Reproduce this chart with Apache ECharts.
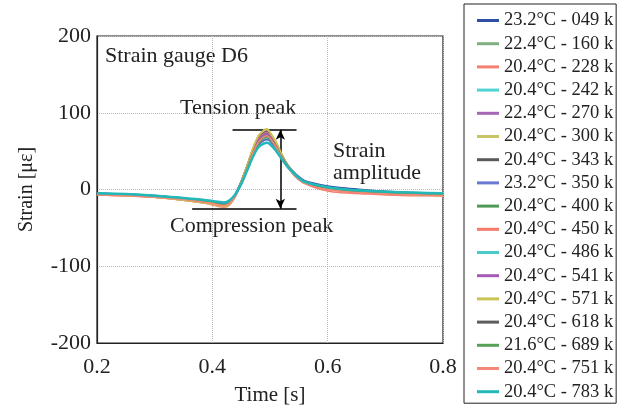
<!DOCTYPE html>
<html>
<head>
<meta charset="utf-8">
<script src="https://cdn.jsdelivr.net/npm/echarts@6/dist/echarts.min.js"></script>
<style>
  html, body { margin: 0; padding: 0; background: #fff; }
  #chart { width: 622px; height: 406px; }
</style>
</head>
<body>
<div id="chart"></div>
<script>
// 时间轴（秒）
var times = [0.2, 0.25, 0.3, 0.35, 0.38, 0.4, 0.41, 0.42, 0.43, 0.44, 0.45, 0.46, 0.47, 0.48, 0.49, 0.495,
             0.5, 0.51, 0.52, 0.53, 0.54, 0.55, 0.56, 0.58, 0.6, 0.62, 0.65, 0.7, 0.75, 0.8];

var names = ['23.2°C - 049 k', '22.4°C - 160 k', '20.4°C - 228 k', '20.4°C - 242 k', '22.4°C - 270 k',
             '20.4°C - 300 k', '20.4°C - 343 k', '23.2°C - 350 k', '20.4°C - 400 k', '20.4°C - 450 k',
             '20.4°C - 486 k', '20.4°C - 541 k', '20.4°C - 571 k', '20.4°C - 618 k', '20.4°C - 618 k',
             '21.6°C - 689 k', '20.4°C - 751 k', '20.4°C - 783 k'];

var colors = ['#2e4fa6', '#7fae7f', '#f47f72', '#4fd3d3', '#a666b4', '#c9c466', '#5a5a5a', '#6a78d2',
              '#4f9a55', '#f47a6a', '#4ccaca', '#a659b6', '#cbc455', '#5c5c5c', '#5866cc', '#58a058',
              '#f48878', '#22b8b8'];

var s049 = [-6, -7, -9, -12, -15, -17, -19, -20, -17, -7, 9, 28, 48, 63, 70, 71, 68, 58, 44, 32, 23, 16, 11, 7, 4, 2, 0, -3, -5, -6];
var s160 = [-6, -7, -9, -13, -16, -18, -20, -21, -18, -8, 9, 29, 50, 66, 73, 74, 70, 59, 44, 31, 21, 14, 9, 4, 1, -1, -3, -5, -6, -7];
var s228 = [-7, -8, -10, -14, -17, -20, -22, -23, -20, -9, 9, 30, 52, 69, 76, 77, 73, 61, 46, 32, 22, 14, 8, 2, -2, -4, -5, -7, -8, -8];
var s242 = [-5, -6, -8, -11, -14, -16, -17, -18, -15, -6, 9, 27, 47, 61, 68, 69, 66, 56, 42, 30, 21, 14, 9, 5, 2, 0, -2, -4, -5, -6];
var s270 = [-6, -7, -9, -13, -16, -18, -20, -21, -18, -8, 10, 30, 51, 68, 75, 76, 72, 60, 45, 31, 21, 14, 9, 4, 1, -1, -3, -5, -6, -7];
var s300 = [-6, -8, -10, -14, -17, -19, -21, -22, -19, -8, 10, 31, 53, 70, 78, 79, 75, 63, 47, 33, 23, 15, 10, 5, 2, 0, -2, -5, -6, -7];
var s343 = [-6, -7, -9, -13, -16, -18, -20, -21, -18, -7, 10, 30, 51, 67, 74, 75, 71, 60, 45, 32, 22, 15, 10, 5, 2, 0, -2, -4, -6, -7];
var s350 = [-6, -7, -9, -12, -15, -17, -19, -20, -17, -7, 9, 29, 49, 64, 71, 72, 69, 58, 44, 31, 22, 15, 10, 6, 3, 1, -1, -4, -5, -6];
var s400 = [-6, -7, -9, -13, -16, -18, -20, -21, -18, -8, 8, 27, 48, 63, 70, 71, 68, 57, 43, 30, 21, 14, 9, 5, 2, 0, -2, -4, -6, -7];
var s450 = [-7, -8, -10, -14, -17, -19, -21, -22, -19, -8, 9, 29, 50, 66, 73, 74, 70, 59, 44, 31, 21, 13, 8, 3, 0, -2, -4, -6, -7, -8];
var s486 = [-5, -6, -8, -11, -14, -16, -17, -18, -15, -6, 8, 26, 45, 59, 65, 66, 64, 55, 42, 31, 22, 15, 10, 6, 3, 1, -1, -3, -5, -6];
var s541 = [-6, -7, -9, -13, -16, -18, -20, -21, -18, -8, 9, 28, 49, 65, 72, 73, 69, 58, 44, 31, 21, 14, 9, 4, 1, -1, -3, -5, -6, -7];
var s571 = [-6, -8, -10, -14, -17, -19, -21, -22, -19, -8, 10, 31, 53, 70, 77, 78, 74, 62, 46, 32, 22, 14, 9, 4, 1, -1, -3, -5, -7, -8];
var s618a = [-6, -7, -9, -12, -15, -17, -19, -20, -17, -7, 8, 27, 47, 62, 69, 70, 67, 57, 43, 31, 22, 15, 10, 5, 2, 0, -2, -4, -6, -7];
var s618b = [-5, -6, -8, -12, -15, -17, -18, -19, -16, -7, 7, 25, 44, 58, 64, 65, 63, 54, 42, 31, 22, 15, 10, 6, 3, 1, -1, -3, -5, -6];
var s689 = [-6, -7, -9, -12, -15, -17, -19, -20, -17, -7, 8, 26, 46, 60, 67, 68, 65, 56, 42, 30, 21, 14, 9, 5, 2, 0, -2, -4, -6, -7];
var s751 = [-7, -8, -10, -13, -16, -18, -20, -21, -18, -8, 8, 27, 47, 62, 69, 70, 67, 56, 42, 30, 20, 13, 8, 3, 0, -2, -4, -6, -7, -8];
var s783 = [-5, -6, -8, -11, -13, -15, -16, -17, -14, -6, 7, 24, 42, 55, 60, 61, 59, 51, 40, 30, 22, 15, 10, 6, 3, 1, -1, -3, -4, -5];

var allData = [s049, s160, s228, s242, s270, s300, s343, s350, s400, s450, s486, s541, s571, s618a, s618b, s689, s751, s783];

// 注释线（数据坐标）
var tensionPeak = 78;
var compressionPeak = -25;

var chart = echarts.init(document.getElementById('chart'));
var font = 'Liberation Serif';

var series = allData.map(function (arr, i) {
    var thick = (i === 0 || i === allData.length - 1);
    return {
        name: names[i],
        type: 'line',
        smooth: 0.3,
        showSymbol: false,
        data: times.map(function (t, j) { return [t, arr[j]]; }),
        lineStyle: { width: thick ? 2.5 : 1.6, color: colors[i] },
        itemStyle: { color: colors[i] },
        z: 2 + i
    };
});

// 注释的标记线挂在一个空系列上
series.push({
    type: 'line',
    data: [],
    z: 30,
    silent: true,
    markLine: {
        silent: true,
        animation: false,
        label: { show: false },
        lineStyle: { color: '#000', width: 1.5, type: 'solid' },
        symbol: ['none', 'none'],
        data: [
            [{ coord: [0.435, tensionPeak] }, { coord: [0.546, tensionPeak] }],
            [{ coord: [0.365, compressionPeak] }, { coord: [0.546, compressionPeak] }],
            [{ coord: [0.518, tensionPeak], symbol: 'arrow', symbolSize: [7, 10] },
             { coord: [0.518, compressionPeak], symbol: 'arrow', symbolSize: [7, 10] }]
        ]
    }
});

var option = {
    animation: false,
    textStyle: { fontFamily: font },
    grid: {
        left: 97, right: 179, top: 36, bottom: 63,
        outerBoundsMode: 'none',
        show: true, borderColor: '#222', borderWidth: 1.2
    },
    xAxis: {
        type: 'value',
        min: 0.2, max: 0.8, interval: 0.2,
        name: 'Time [s]',
        nameLocation: 'middle',
        nameGap: 42,
        nameTextStyle: { fontFamily: font, fontSize: 21, color: '#222' },
        axisLine: { onZero: false, lineStyle: { color: '#222', width: 1.2 } },
        axisTick: { show: false },
        axisLabel: { fontFamily: font, fontSize: 22, color: '#222', margin: 13,
                     formatter: function (v) { return v.toFixed(1); } },
        splitLine: { show: true, lineStyle: { type: 'dotted', color: '#b8b8b8' } }
    },
    yAxis: {
        type: 'value',
        min: -200, max: 200, interval: 100,
        name: 'Strain [με]',
        nameLocation: 'middle',
        nameGap: 60,
        nameTextStyle: { fontFamily: font, fontSize: 20, color: '#222' },
        axisLine: { show: true, onZero: false, lineStyle: { color: '#222', width: 1.2 } },
        axisTick: { show: false },
        axisLabel: { fontFamily: font, fontSize: 22, color: '#222', margin: 6 },
        splitLine: { show: true, lineStyle: { type: 'dotted', color: '#b8b8b8' } }
    },
    legend: {
        orient: 'vertical',
        left: 464, top: 4,
        padding: [7, 3, 2, 13],
        borderColor: '#222', borderWidth: 1,
        itemWidth: 22, itemHeight: 3,
        itemGap: 4.2,
        icon: 'rect',
        data: names.map(function (n, i) { return { name: n, itemStyle: { color: colors[i] } }; }),
        textStyle: { fontFamily: font, fontSize: 18.5, color: '#222' }
    },
    graphic: [
        { type: 'text', left: 105, top: 45, style: { text: 'Strain gauge D6', font: '22px "Liberation Serif"', fill: '#222' } },
        { type: 'text', left: 180, top: 97, style: { text: 'Tension peak', font: '22px "Liberation Serif"', fill: '#222' } },
        { type: 'text', left: 333, top: 140, style: { text: 'Strain', font: '22px "Liberation Serif"', fill: '#222' } },
        { type: 'text', left: 333, top: 162, style: { text: 'amplitude', font: '22px "Liberation Serif"', fill: '#222' } },
        { type: 'text', left: 170, top: 215, style: { text: 'Compression peak', font: '22px "Liberation Serif"', fill: '#222' } }
    ],
    series: series
};

chart.setOption(option);
</script>
</body>
</html>
